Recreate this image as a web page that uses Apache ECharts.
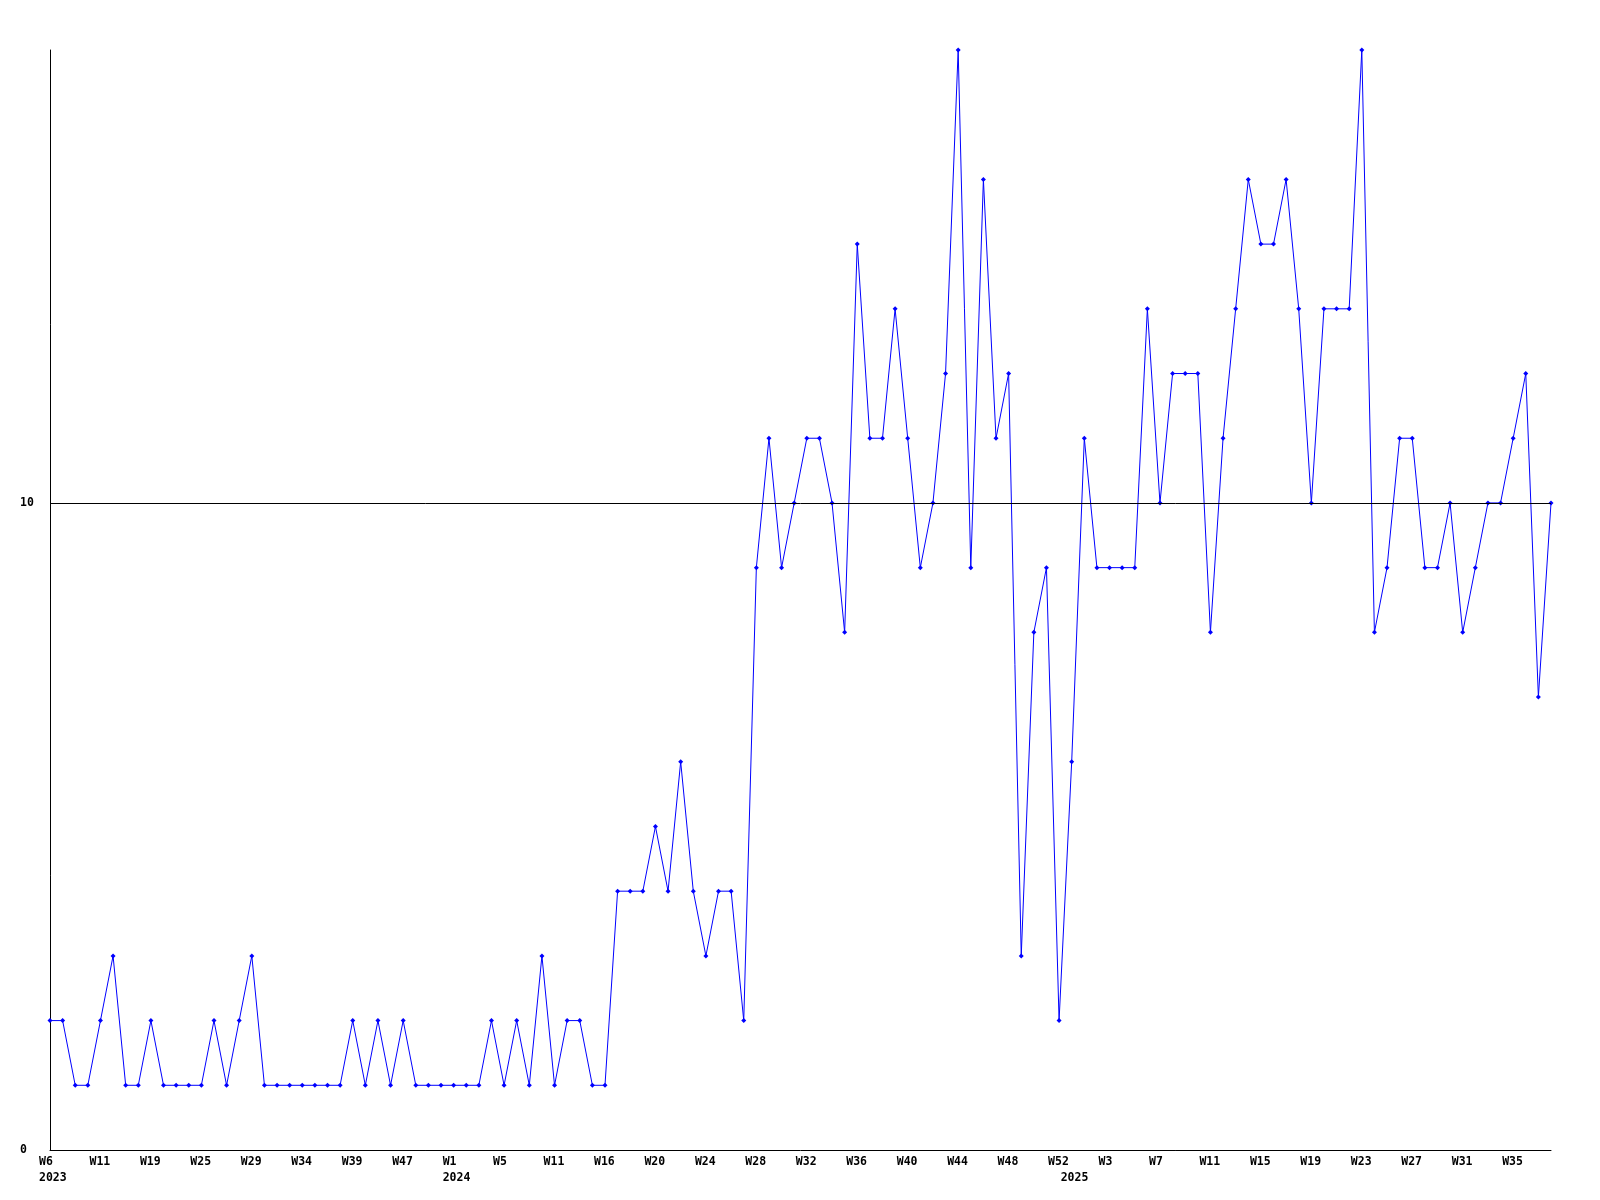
<!DOCTYPE html>
<html>
<head>
<meta charset="utf-8">
<script src="https://cdn.jsdelivr.net/npm/echarts@6/dist/echarts.min.js"></script>
<style>
  html, body { margin: 0; padding: 0; background: #fff; }
  #chart { width: 1600px; height: 1200px; }
</style>
</head>
<body>
<div id="chart"></div>
<script>
// one point per reported week (some weeks have no data)
var weeks = [
  '2023-W6', '2023-W7', '2023-W8', '2023-W10', '2023-W11', '2023-W13', '2023-W15', '2023-W17',
  '2023-W19', '2023-W20', '2023-W22', '2023-W23', '2023-W25', '2023-W26', '2023-W27', '2023-W28',
  '2023-W29', '2023-W30', '2023-W31', '2023-W33', '2023-W34', '2023-W35', '2023-W36', '2023-W38',
  '2023-W39', '2023-W41', '2023-W43', '2023-W45', '2023-W47', '2023-W48', '2023-W50', '2023-W51',
  '2024-W1', '2024-W2', '2024-W3', '2024-W4', '2024-W5', '2024-W7', '2024-W8', '2024-W10',
  '2024-W11', '2024-W13', '2024-W14', '2024-W15', '2024-W16', '2024-W17', '2024-W18', '2024-W19',
  '2024-W20', '2024-W21', '2024-W22', '2024-W23', '2024-W24', '2024-W25', '2024-W26', '2024-W27',
  '2024-W28', '2024-W29', '2024-W30', '2024-W31', '2024-W32', '2024-W33', '2024-W34', '2024-W35',
  '2024-W36', '2024-W37', '2024-W38', '2024-W39', '2024-W40', '2024-W41', '2024-W42', '2024-W43',
  '2024-W44', '2024-W45', '2024-W46', '2024-W47', '2024-W48', '2024-W49', '2024-W50', '2024-W51',
  '2024-W52', '2025-W0', '2025-W1', '2025-W2', '2025-W3', '2025-W4', '2025-W5', '2025-W6',
  '2025-W7', '2025-W8', '2025-W9', '2025-W10', '2025-W11', '2025-W12', '2025-W13', '2025-W14',
  '2025-W15', '2025-W16', '2025-W17', '2025-W18', '2025-W19', '2025-W20', '2025-W21', '2025-W22',
  '2025-W23', '2025-W24', '2025-W25', '2025-W26', '2025-W27', '2025-W28', '2025-W29', '2025-W30',
  '2025-W31', '2025-W32', '2025-W33', '2025-W34', '2025-W35', '2025-W36', '2025-W37', '2025-W38'
];

var counts = [
  2, 2, 1, 1, 2, 3, 1, 1, 2, 1, 1, 1, 1, 2, 1, 2,
  3, 1, 1, 1, 1, 1, 1, 1, 2, 1, 2, 1, 2, 1, 1, 1,
  1, 1, 1, 2, 1, 2, 1, 3, 1, 2, 2, 1, 1, 4, 4, 4,
  5, 4, 6, 4, 3, 4, 4, 2, 9, 11, 9, 10, 11, 11, 10, 8,
  14, 11, 11, 13, 11, 9, 10, 12, 17, 9, 15, 11, 12, 3, 8, 9,
  2, 6, 11, 9, 9, 9, 9, 13, 10, 12, 12, 12, 8, 11, 13, 15,
  14, 14, 15, 13, 10, 13, 13, 13, 17, 8, 9, 11, 11, 9, 9, 10,
  8, 9, 10, 10, 11, 12, 7, 10
];

var yTicks = [0, 10];
var refLine = 10;

var chart = echarts.init(document.getElementById('chart'));

var labelFont = {
  fontFamily: 'DejaVu Sans Mono',
  fontWeight: 'bold',
  fontSize: 11.5,
  color: '#000'
};

var option = {
  animation: false,
  backgroundColor: '#fff',
  grid: {
    left: 50,
    right: 49,
    top: 50,
    bottom: 50
  },
  xAxis: {
    type: 'category',
    data: weeks,
    boundaryGap: false,
    axisLine: { show: true, lineStyle: { color: '#000', width: 1 } },
    axisTick: { show: false },
    splitLine: { show: false },
    axisLabel: Object.assign({
      interval: 0,
      margin: 4,
      align: 'left',
      lineHeight: 16,
      padding: [0, 0, 0, -11],
      formatter: function (value, index) {
        var parts = value.split('-');
        var txt = index % 4 === 0 ? parts[1] : '';
        var prev = index > 0 ? weeks[index - 1].split('-')[0] : null;
        if (parts[0] !== prev) {
          txt += '\n' + parts[0];
        }
        return txt;
      }
    }, labelFont)
  },
  yAxis: {
    type: 'value',
    min: 0,
    max: 17,
    interval: 10,
    axisLine: { show: true, lineStyle: { color: '#000', width: 1 } },
    axisTick: { show: false },
    splitLine: { show: false },
    axisLabel: Object.assign({
      customValues: yTicks,
      align: 'left',
      margin: 30
    }, labelFont)
  },
  series: [{
    type: 'line',
    data: counts,
    symbol: 'diamond',
    symbolSize: 5,
    showAllSymbol: true,
    lineStyle: { color: '#0000ff', width: 1 },
    itemStyle: { color: '#0000ff' },
    markLine: {
      silent: true,
      symbol: 'none',
      label: { show: false },
      lineStyle: { color: '#000', width: 1, type: 'solid' },
      data: [{ yAxis: refLine }]
    }
  }]
};

chart.setOption(option);
</script>
</body>
</html>
